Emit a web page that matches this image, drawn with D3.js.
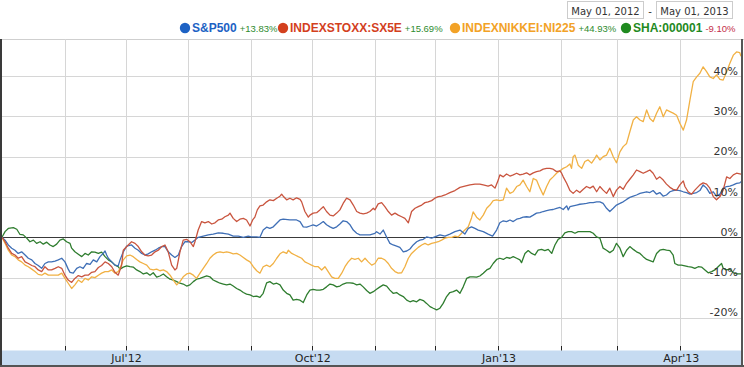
<!DOCTYPE html>
<html><head><meta charset="utf-8">
<script src="https://cdn.jsdelivr.net/npm/d3@7"></script>
<style>
html,body{margin:0;padding:0;background:#fff;}
svg{display:block;}
</style></head><body>
<svg id="chart" width="744" height="367"></svg>
<script>
// ---------- data ----------
const rangeLabels = ["May 01, 2012", "May 01, 2013"];
const seriesNames = ["S&P500", "INDEXSTOXX:SX5E", "INDEXNIKKEI:NI225", "SHA:000001"];
const seriesChanges = ["+13.83%", "+15.69%", "+44.93%", "-9.10%"];
const yTickValues = [-20, -10, 0, 10, 20, 30, 40];
const xLabelMonths = ["Jul'12", "Oct'12", "Jan'13", "Apr'13"];
// [days since May 01 2012, % change]
const sp500 = [[0,0],[1.5,-0.7],[3.1,-1.9],[4.8,-2.7],[6.4,-3.2],[8,-4],[9.7,-3.6],[11.4,-4.4],[13,-5.2],[14.7,-5.6],[16.3,-6.5],[17.9,-7],[19.6,-7.7],[21.2,-6.5],[22.9,-6.1],[24.5,-6.1],[26.2,-5.9],[27.8,-5.6],[29.5,-5.2],[31.1,-6.1],[32.7,-7.9],[33.6,-8.7],[35.2,-8.9],[36.9,-7.7],[38.5,-7.3],[40.1,-7.7],[41.8,-6.5],[43.5,-6.7],[45.1,-5.6],[46.8,-6.1],[48.4,-4.8],[50,-4],[50.9,-3.4],[51.7,-4.4],[52.5,-5.2],[54.2,-6.1],[55.8,-6.9],[57.4,-7.1],[58.3,-5.6],[59.9,-3.6],[61.6,-2.2],[64,-1.9],[65.7,-2.7],[67.3,-3.2],[69,-4],[70.6,-4.4],[72.2,-4.1],[73.9,-3.6],[75.6,-3.2],[77.2,-2.7],[78.9,-2.3],[80.5,-2.3],[82.1,-3.6],[83.8,-4.4],[85.4,-5],[87.1,-4.4],[88.7,-2.3],[90.4,-1.1],[92,-1.1],[93.7,-1.3],[95.3,-0.7],[96.9,0],[99.4,0.3],[101.9,0.6],[104.3,0.8],[106.8,1.1],[109.3,1],[111.8,0.8],[114.2,0.3],[116.7,0.3],[119.2,0],[121.6,0.3],[123,0.1],[125.8,0.1],[127.4,0],[129,1.8],[130.7,2.5],[132.3,2.2],[134,2.6],[135.7,3.5],[137.3,4.3],[138.9,4.5],[142.2,4.3],[145.5,4.3],[147.2,3.9],[148.8,2.6],[150.5,2.5],[152.1,2.8],[153.7,3.1],[155.4,2.8],[157,3.3],[158.7,3.9],[160.3,3.1],[162,2.6],[163.6,2.2],[165.3,2.6],[166.9,3.3],[168.5,4.1],[170.2,3.9],[171.9,3.1],[173.5,1.8],[175.2,1],[176.8,0.6],[181.7,0.6],[184.2,1],[185,1.4],[186.7,0.8],[188.3,1.8],[190,0],[191.6,-1.5],[193.2,-1.9],[194.9,-2.2],[196.5,-2.5],[198.2,-3.6],[199.9,-3.4],[201.5,-2.9],[203.1,-1.9],[204.8,-1.1],[206.4,-0.7],[208.1,-0.5],[209.7,0.1],[212.2,-0.2],[213.8,0.1],[216.3,0.6],[218.8,0.3],[221.2,0.8],[223.7,1.4],[226.2,1.8],[228.6,0.8],[230.3,2.2],[231.9,2.6],[233.6,2.2],[235.2,1.8],[237.7,1.4],[240.1,0.8],[242.3,0.3],[244.3,1.8],[245.9,3.6],[247.6,4.1],[249.2,3.9],[250.9,4.3],[252.5,3.9],[254.2,4.5],[255.8,4.7],[257.4,5],[259.1,5.1],[260.7,5],[262.4,5.5],[264,6],[265.7,6.1],[267.3,6.4],[269,6.6],[270.6,6.8],[272.2,6.9],[273.9,7.2],[275.6,7.4],[277.2,6.9],[278.9,7.8],[279.7,6.8],[280.5,7.6],[282.1,7.8],[283.8,8],[285.4,8.2],[287.1,8.3],[288.7,8.4],[290.4,8.6],[292,8.6],[293.7,8.8],[295.3,8.8],[296.9,8.4],[298.6,7.2],[300.2,6.4],[301.9,7.2],[303.5,8],[305.2,8.4],[306.8,8.8],[308.5,9.4],[310.1,9.9],[311.8,10.2],[313.4,10.5],[315.1,10.9],[316.7,11.1],[318.4,11.3],[320,11.1],[321.6,11.6],[323.3,10.7],[324.9,11.1],[326.6,10.2],[328.2,10.5],[329.9,11.3],[331.5,11.6],[333.2,11.7],[334.8,11.6],[336.5,11.3],[338.1,11.1],[339.8,10.7],[341.4,10.9],[343.1,11.1],[344.7,11.6],[346.3,13],[348,12.2],[349.6,10.9],[351.3,11.3],[352.9,10.2],[354.6,10.7],[356.2,12.2],[357.9,12.6],[359.5,12.7],[361.2,13],[362.8,13.4],[364.4,13.5],[365,13.83]];
const stoxx = [[0,0],[1.5,-1.1],[3.1,-2.7],[4.8,-4],[6.4,-4.4],[8,-5.2],[9.7,-4.8],[11.4,-6.1],[13,-6.5],[14.7,-7],[16.3,-7.3],[17.9,-8.1],[19.6,-8.5],[21.2,-7.3],[22.9,-8.1],[24.5,-8.1],[26.2,-7.7],[27.8,-7.3],[29.5,-7.7],[31.1,-9.4],[32.7,-10.6],[34.4,-11.2],[36,-10.2],[37.7,-9.5],[39.4,-9.8],[41,-9.4],[42.6,-9.4],[44.3,-8.7],[45.9,-8.5],[47.6,-7.5],[49.2,-7],[50.9,-6.1],[52.5,-6.5],[54.2,-7.3],[55.8,-8.7],[57.4,-9.4],[59.1,-6.9],[59.9,-3.2],[61.6,-2.3],[64,-1.1],[65.7,-1.5],[67.3,-2.3],[69,-3.6],[70.6,-4.4],[72.2,-4.6],[73.9,-4.4],[75.6,-3.6],[77.2,-3.2],[78.9,-2.3],[80.5,-1.9],[82.1,-3.6],[83.8,-6.9],[85.4,-8.1],[86.3,-7.7],[87.9,-3.6],[89.5,-0.7],[91.2,-0.5],[92.8,-1.1],[94.5,-2.3],[95.3,-1.1],[96.9,1.8],[98.6,3.9],[100.2,3.6],[101.9,3.9],[103.6,3.3],[105.2,3.6],[106.8,4.3],[108.5,4.5],[110.1,5.1],[111.8,5.5],[112.6,6],[114.2,4.7],[115.9,3.9],[117.5,4.5],[119.2,4.7],[120.8,4.3],[122.5,2.8],[123.8,4.3],[124.9,5],[126.1,6.8],[127.4,7.8],[129,8],[130.7,8.8],[132.3,9.3],[134,9.1],[135.7,9.7],[137.3,10.2],[138.1,10.7],[138.9,10.2],[140.6,9.3],[142.2,9.7],[143.8,9.3],[145.5,9.8],[147.2,9.4],[148,8.8],[149.6,6.4],[151.3,5],[152.1,5.5],[153.7,6],[155.4,6.1],[157,6.8],[158.7,7.6],[160.3,6.4],[162,5.5],[163.6,5.3],[165.3,6],[166.9,6.8],[168.5,8.4],[170.2,9.7],[171.9,9.3],[173.5,8],[175.2,6.4],[176.8,6],[178.4,5.8],[180.1,6],[181.7,6.4],[183.4,7.2],[184.2,6.8],[185.8,8.3],[187.5,8.6],[189.1,7.6],[190.8,6.4],[192.4,5.5],[194.1,6],[195.7,5.5],[197.4,5.1],[199,4.7],[200.7,3.6],[202.3,6.4],[204,7.2],[205.6,7.6],[207.3,8],[208.9,8.6],[210.5,8.8],[212.2,9.1],[213.8,9.7],[215.5,10.1],[217.1,10.2],[218.8,10.5],[221.2,11.1],[223.7,11.6],[226.2,12.4],[228.6,12.7],[231.1,13],[233.6,13.2],[236,13.2],[237.7,13],[240.1,12.7],[241.8,13],[243.5,12.2],[245.1,14.2],[245.9,15.5],[247.6,15],[249.2,15.7],[250.9,15.2],[252.5,15.5],[254.2,15.9],[255.8,15.5],[257.4,15.7],[259.1,16],[260.7,15.5],[262.4,16],[264,16.3],[265.7,16.5],[267.3,16.9],[269,17.1],[270.6,17.1],[272.2,16.9],[273.9,16.3],[275.6,16.5],[276.4,15.9],[277.2,15],[278.9,13.4],[280.5,11.6],[282.1,10.9],[283.8,11.7],[285.4,11.1],[287.1,11.9],[288.7,12.6],[290.4,12.2],[292,12.7],[293.7,11.3],[295.3,12.6],[296.9,11.7],[298.6,10.9],[300.2,12.2],[301.9,10.1],[303.5,11.7],[305.2,12.6],[306.8,11.9],[308.5,13.4],[310.1,14.4],[311.8,15.5],[313.4,16.7],[315.1,16.3],[316.7,15.9],[318.4,16.3],[320,16.7],[321.6,15.9],[323.3,14.4],[324.9,15],[326.6,14.2],[328.2,13.2],[329.9,12.4],[331.5,11.9],[333.2,11.7],[334.8,13],[336.5,14],[337.3,12.6],[338.9,11.3],[340.6,10.7],[342.2,11.7],[344.7,13],[346.3,13.5],[348,13.2],[349.6,12.2],[351.3,10.1],[352.9,9.3],[354.6,10.1],[356.2,11.7],[357.9,15],[359.5,14.6],[361.2,15.5],[362.8,15.9],[365,15.69]];
const nikkei = [[0,0],[1.5,-1.5],[3.1,-3.2],[4.8,-4.4],[6.4,-4.8],[8,-5.6],[9.7,-6.1],[11.4,-6.9],[13,-7.3],[14.7,-7.9],[16.3,-8.5],[17.9,-9.2],[19.6,-9.4],[21.2,-8.9],[22.9,-9.4],[26.2,-9.4],[27.8,-9.4],[29.5,-8.9],[31.1,-10.2],[32.7,-11.4],[34.4,-12.7],[36,-11.8],[37.7,-10.6],[39.4,-11.2],[41,-10.2],[42.6,-10.6],[44.3,-9.8],[45.9,-10],[47.6,-9.4],[49.2,-8.9],[50.9,-8.5],[52.5,-8.5],[54.2,-8.1],[55.8,-8.9],[57.4,-8.5],[58.3,-7.7],[59.9,-5.6],[61.6,-4.6],[63.2,-4.4],[64.8,-4.8],[66.5,-5.5],[68.1,-6.1],[69.8,-6.5],[71.5,-6.9],[73.1,-7.9],[74.7,-8.1],[76.4,-7.9],[78,-8.3],[79.7,-8.1],[81.3,-8.5],[83,-9.4],[84.6,-10.6],[86.3,-11.8],[87.9,-11],[89.5,-9.8],[91.2,-9.1],[92.8,-8.9],[94.5,-9.4],[96.1,-10.2],[97.8,-8.9],[99.4,-7.7],[101.1,-6.5],[102.7,-5.2],[104.3,-4.4],[106,-3.8],[107.7,-3.6],[109.3,-3.8],[111,-3.6],[112.6,-3.8],[114.2,-4.1],[115.9,-4],[117.5,-4.4],[119.2,-5],[120.8,-5.6],[122.5,-6.1],[124.1,-7.3],[125.8,-8.3],[127.4,-8.9],[129,-7.3],[130.7,-6.9],[132.3,-7.3],[134,-6.5],[135.7,-5.2],[137.3,-4.1],[138.9,-3.6],[140.6,-4],[141.4,-3.2],[143.1,-4],[144.7,-4.4],[146.3,-4.8],[148,-5.2],[149.6,-6.1],[151.3,-6.5],[152.9,-6.9],[154.6,-7.3],[156.2,-7.3],[157.9,-8.1],[159.5,-7.3],[161.1,-8.5],[162.8,-9.8],[164.4,-10.2],[166.1,-10.2],[167.8,-8.9],[169.4,-7.3],[171,-6.1],[172.7,-5.2],[174.3,-5.5],[176,-5.2],[177.6,-6.1],[179.3,-5.2],[180.9,-6.1],[182.6,-6.9],[184.2,-6.5],[185.8,-5.2],[187.5,-5.2],[189.1,-5.6],[190.8,-6.5],[192.4,-7.7],[194.1,-8.5],[195.7,-8.9],[197.4,-8.8],[199,-7.3],[200.7,-5.2],[202.3,-4],[204,-3.2],[205.6,-2.5],[207.3,-1.9],[208.9,-1.5],[210.5,-1.9],[212.2,-1.5],[213.8,-1.3],[215.5,-1.1],[217.1,-0.7],[218.8,-0.2],[220.4,0],[222.1,0],[223.7,0.3],[225.3,0.1],[227,1],[228.6,1.8],[230.3,2.6],[231.9,4.8],[232.7,6.3],[234.4,5],[236,4.3],[237.7,5.5],[239.4,7.2],[241,8],[242.6,9.1],[244.3,9.3],[245.9,9.1],[247.6,9.3],[249.2,12.2],[250.9,10.9],[252.5,11.3],[254.2,12.6],[255.8,13],[257.4,14.2],[259.1,12.6],[260.7,11.3],[262.4,14.6],[264,14.2],[265.7,12.2],[267.3,10.5],[269,12.6],[270.6,14.2],[272.2,15],[273.9,15.9],[275.6,16.5],[277.2,17.1],[278.9,17.5],[280.5,18.2],[281.3,17.1],[282.1,20],[283,20.4],[284.6,17.9],[286.3,17.1],[287.9,18.8],[289.5,19.2],[291.2,18.4],[292.8,19.6],[293.7,20.4],[295.3,19.2],[296.9,20],[298.6,20.4],[300.2,22.1],[301.9,20],[303.5,18.5],[305.2,21.2],[306.8,22.5],[308.5,23.3],[310.1,26.2],[311.8,29.1],[313.4,29.9],[315.1,29.1],[316.7,28.7],[318.4,31.6],[320,29.5],[321.6,28.7],[323.3,30.8],[324.9,32.4],[326.6,29.9],[328.2,31.6],[329.9,31.2],[331.5,30.8],[333.2,30.3],[334.8,28.3],[336.5,26.6],[338.1,29.1],[339.8,34.1],[341.4,38.6],[343.1,39.8],[344.7,40.7],[346.3,42.3],[348,41.1],[349.6,39.8],[351.3,39.4],[352.9,40.3],[354.6,39.2],[356.2,39],[357.9,41.1],[359.5,43.2],[361.2,45.2],[362.8,46],[364.4,45.8],[365,44.93]];
const sha = [[0,0],[1.5,1.4],[3.1,2.2],[5.6,2.4],[7.3,2],[8.9,0.7],[10.5,0.6],[12.2,-0.2],[13.8,-1.1],[15.5,-0.7],[17.1,-1.5],[18.8,-1.1],[20.4,-1.7],[22.1,-1.2],[23.7,-1.9],[25.3,-2.3],[27,-1.7],[28.6,-0.7],[30.3,-0.4],[31.9,-1.1],[33.6,-1.5],[34.4,-2.7],[36,-3.6],[37.7,-4.2],[39.4,-4.8],[41,-4],[42.6,-4.4],[44.3,-3.6],[45.9,-3.7],[47.6,-4],[49.2,-3.7],[50.9,-4.8],[52.5,-5.6],[54.2,-6.1],[55.8,-6.9],[57.4,-7.3],[58.3,-7.9],[59.9,-7.4],[61.6,-7.1],[63.2,-7.3],[64.8,-7.4],[66.5,-8.1],[68.1,-8.5],[69.8,-9.1],[71.5,-8.8],[73.1,-9.4],[74.7,-8.8],[76.4,-9.9],[78,-9.6],[79.7,-9.1],[81.3,-9.8],[83,-10.4],[84.6,-10.6],[86.3,-11],[87.9,-11.4],[89.5,-11.6],[91.2,-12.1],[92.8,-11.8],[94.5,-11],[96.1,-10.4],[97.8,-10.2],[99.4,-9.9],[101.1,-9.6],[102.7,-9.8],[104.3,-10.6],[106,-11],[107.7,-11.4],[109.3,-11.6],[111,-11.8],[112.6,-11.6],[114.2,-12.1],[115.9,-12.7],[117.5,-13.1],[119.2,-13.7],[120.8,-14.1],[122.5,-14.3],[124.1,-14.7],[125.8,-14.6],[127.4,-14.9],[129,-13.9],[130.7,-11.3],[132.3,-11],[134,-11.6],[135.7,-11.4],[137.3,-11.8],[138.9,-13.1],[140.6,-13.9],[142.2,-14.3],[143.8,-15.6],[145.5,-15.4],[147.2,-15.6],[148.8,-16.2],[150.5,-14.3],[152.1,-13.1],[153.7,-12.9],[155.4,-13.1],[157,-13.1],[158.7,-12.9],[160.3,-12.3],[162,-11.6],[163.6,-11.8],[165.3,-12.3],[166.9,-12.1],[168.5,-11.6],[170.2,-11.3],[171.9,-11.3],[173.5,-11.4],[175.2,-11.8],[176.8,-11.6],[178.4,-12.3],[180.1,-13.2],[181.7,-13.9],[183.4,-13.5],[185,-12.9],[186.7,-12.3],[188.3,-11.8],[190,-12.1],[191.6,-13.1],[193.2,-13.9],[194.9,-13.7],[196.5,-14.3],[198.2,-14.7],[199.9,-15.6],[201.5,-16],[203.1,-15.7],[204.8,-16],[206.4,-15.4],[208.1,-15.7],[209.7,-16.4],[211.4,-17.2],[213,-17.6],[214.7,-18],[216.3,-17.6],[217.9,-16.4],[219.6,-14.7],[221.2,-13.7],[222.9,-13.5],[224.5,-13.1],[226.2,-13.9],[227.8,-12.3],[229.5,-10.2],[231.1,-9.8],[232.7,-9.8],[234.4,-9.9],[236,-9.6],[237.7,-8.9],[239.4,-8.1],[241,-7.7],[242.6,-6.5],[244.3,-5.5],[245.9,-5.2],[247.6,-5.5],[249.2,-5],[250.9,-5.2],[252.5,-4.8],[254.2,-5.2],[255.8,-5.6],[256.6,-6.3],[258.3,-4],[259.9,-3.3],[261.6,-4],[263.2,-4.4],[264.8,-3.2],[266.5,-3],[268.1,-3.3],[269.8,-3],[271.5,-4],[273.1,-1.9],[274.7,-0.5],[276.4,0],[278,1.1],[279.7,1.4],[281.3,1.4],[283,1],[284.6,1.4],[287.9,1.4],[290.4,1.4],[292,1],[293.7,0.1],[295.3,-0.2],[296.9,-2.7],[298.6,-3.2],[300.2,-3.8],[301.9,-3.2],[303.5,-1.5],[305.2,-2.7],[306.8,-4.8],[308.5,-3.2],[310.1,-2.3],[311.8,-3],[313.4,-3.6],[315.1,-4],[316.7,-4.8],[318.4,-5.5],[320,-5.8],[321.6,-6.1],[323.3,-4],[324.9,-3.2],[326.6,-3],[328.2,-3.2],[329.9,-3.3],[331.5,-4.4],[332.3,-6.5],[334,-6.9],[335.6,-6.9],[337.3,-7.1],[338.9,-7.3],[340.6,-7.4],[342.2,-7.7],[343.9,-7.3],[345.5,-7.4],[347.2,-8.1],[348.8,-8.8],[350.5,-8.5],[352.1,-8.1],[353.7,-7.3],[355.4,-6.5],[356.2,-7.7],[357.9,-8.1],[359.5,-7.9],[361.2,-8.8],[362.8,-9.1],[365,-9.1]];
const seriesData = [sp500, stoxx, nikkei, sha];

// ---------- styles ----------
const lineColors = ["#3f6fb6", "#c9553f", "#f1b144", "#2f7d2f"];
const legendColors = ["#1d62c4", "#d3401e", "#f2a227", "#1f8a1f"];

const svg = d3.select("#chart");
const t0 = Date.UTC(2012, 4, 1);
const toDate = d => new Date(t0 + d * 864e5);
const x = d3.scaleUtc().domain([new Date(t0), new Date(Date.UTC(2013, 4, 1))]).range([2, 741]);
const y = d3.scaleLinear().domain([-20, 40]).range([317.9, 76.1]);
const P = {l: 1, r: 741, t: 39, b: 350};

// bottom band
svg.append("rect").attr("x", 1).attr("y", 350.5).attr("width", 741).attr("height", 15).attr("fill", "#c6dbf1");

// top border (light)
svg.append("line").attr("x1", 0).attr("x2", 744).attr("y1", 39.5).attr("y2", 39.5).attr("stroke", "#cfcfcf");

// horizontal gridlines
yTickValues.forEach(v => {
  const yy = Math.round(y(v)) + 0.5;
  svg.append("line").attr("x1", P.l).attr("x2", P.r).attr("y1", yy).attr("y2", yy)
    .attr("stroke", "#d6d6d6").attr("stroke-width", 1);
});

// vertical month gridlines and ticks
const months = d3.utcMonth.range(new Date(Date.UTC(2012, 5, 1)), new Date(Date.UTC(2013, 4, 1)));
const fmt = d3.utcFormat("%b'%y");
months.forEach(m => {
  const xx = Math.round(x(m)) + 0.5;
  svg.append("line").attr("x1", xx).attr("x2", xx).attr("y1", P.t).attr("y2", 346)
    .attr("stroke", "#d6d6d6");
  svg.append("line").attr("x1", xx).attr("x2", xx).attr("y1", 346).attr("y2", 350.5)
    .attr("stroke", "#222");
  const lab = fmt(m);
  if (xLabelMonths.includes(lab)) {
    svg.append("text").attr("x", x(m) + 1).attr("y", 362).attr("text-anchor", "middle")
      .attr("font-family", "DejaVu Sans").attr("font-size", "11px").attr("fill", "#222").text(lab);
  }
});

// zero line
svg.append("line").attr("x1", P.l).attr("x2", P.r).attr("y1", Math.round(y(0)) + 0.5).attr("y2", Math.round(y(0)) + 0.5)
  .attr("stroke", "#3a3a3a").attr("stroke-width", 1);

// clip
svg.append("clipPath").attr("id", "clip").append("rect")
  .attr("x", P.l).attr("y", P.t).attr("width", P.r - P.l).attr("height", P.b - P.t);

const line = d3.line().x(d => x(toDate(d[0]))).y(d => y(d[1]));
const g = svg.append("g").attr("clip-path", "url(#clip)");
[3, 2, 0, 1].forEach(i => {
  g.append("path").datum(seriesData[i]).attr("d", line).attr("fill", "none")
    .attr("stroke", lineColors[i]).attr("stroke-width", 1.3).attr("stroke-linejoin", "round");
});

// y labels
yTickValues.forEach(v => {
  svg.append("text").attr("x", 738).attr("y", y(v) - 1.5).attr("text-anchor", "end")
    .attr("font-family", "DejaVu Sans").attr("font-size", "11px").attr("fill", "#333").text(v + "%");
});

// frame
svg.append("rect").attr("x", 0).attr("y", 39).attr("width", 2).attr("height", 328).attr("fill", "#3a3a3a");
svg.append("rect").attr("x", 741).attr("y", 39).attr("width", 2).attr("height", 328).attr("fill", "#555");
svg.append("rect").attr("x", 0).attr("y", 365).attr("width", 744).attr("height", 2).attr("fill", "#555");

// legend
const legendAnchors = [185, 283, 455, 626];
seriesNames.forEach((name, i) => {
  const cx = legendAnchors[i];
  svg.append("circle").attr("cx", cx).attr("cy", 28).attr("r", 5.2).attr("fill", legendColors[i]);
  const t = svg.append("text").attr("x", cx + 7).attr("y", 32).attr("font-family", "Liberation Sans, Arial")
    .attr("font-weight", "bold").attr("font-size", "12px").attr("fill", legendColors[i]).text(name);
  const w = t.node().getComputedTextLength();
  const ch = seriesChanges[i];
  svg.append("text").attr("x", cx + 7 + w + 3).attr("y", 32).attr("font-family", "Liberation Sans, Arial")
    .attr("font-size", "9.5px").attr("fill", ch.startsWith("-") ? "#c4304a" : "#2e8b2e").text(ch);
});

// date range boxes
const boxes = [{x: 567.5, w: 76}, {x: 656.5, w: 76}];
boxes.forEach((b, i) => {
  svg.append("rect").attr("x", b.x).attr("y", 1.5).attr("width", b.w).attr("height", 17)
    .attr("fill", "#fff").attr("stroke", "#cccccc");
  svg.append("text").attr("x", b.x + b.w / 2).attr("y", 14.5).attr("text-anchor", "middle")
    .attr("font-family", "DejaVu Sans").attr("font-size", "10px").attr("fill", "#333").text(rangeLabels[i]);
});
svg.append("text").attr("x", 650).attr("y", 14.5).attr("text-anchor", "middle")
  .attr("font-family", "DejaVu Sans").attr("font-size", "10px").attr("fill", "#333").text("-");
</script>
</body></html>
